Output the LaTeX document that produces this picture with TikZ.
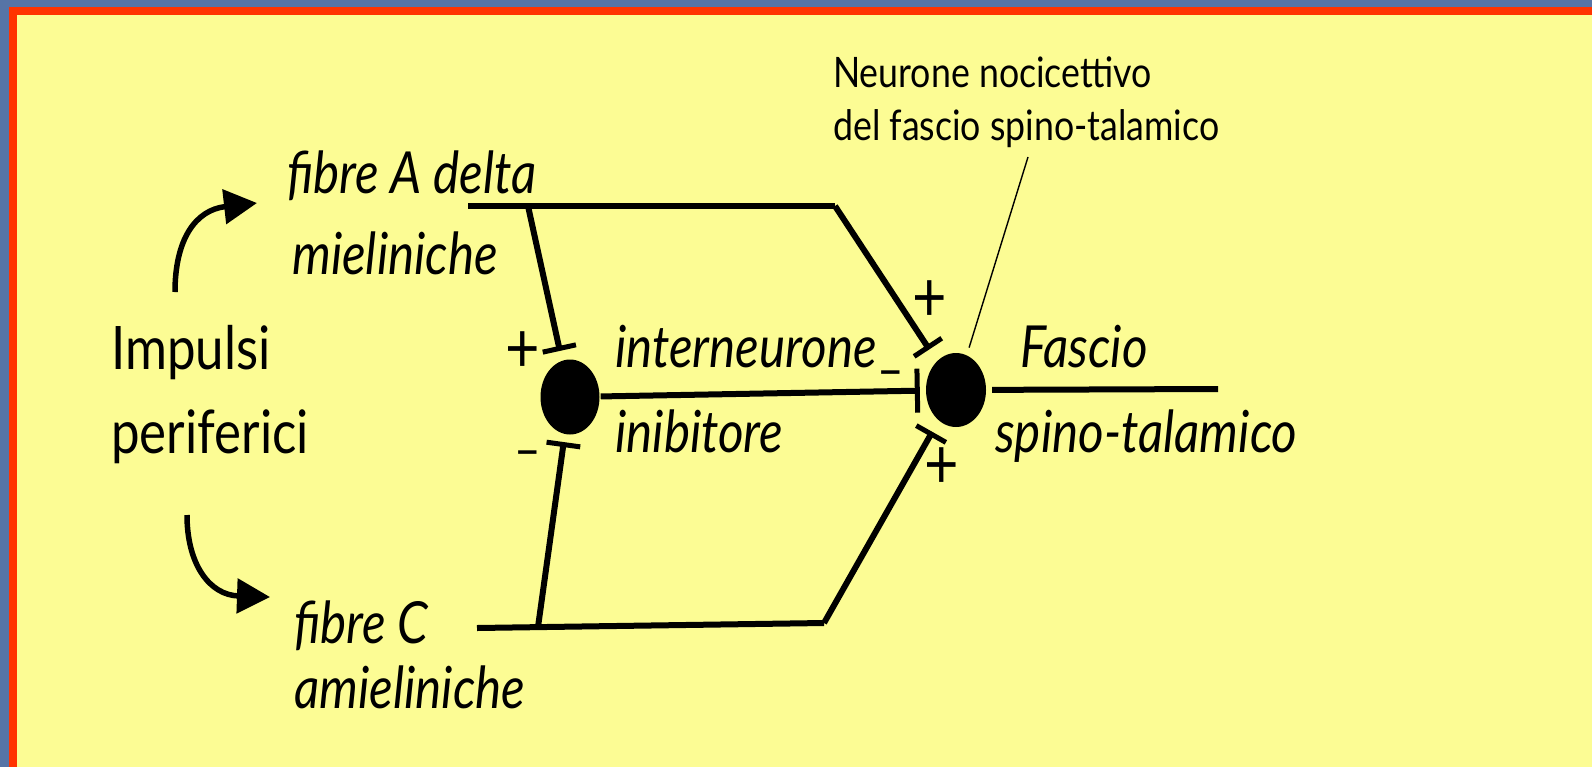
\documentclass[tikz,border=0pt]{standalone}
\usepackage{fontspec}
\setmainfont{Lato}[FakeStretch=0.85]
\usetikzlibrary{arrows.meta,shapes.geometric}

\definecolor{slideblue}{RGB}{86,116,166}
\definecolor{slidered}{RGB}{255,51,0}
\definecolor{slideyellow}{RGB}{252,252,148}

\tikzset{
  fibre/.style={line width=6pt},
  inhib/.style={fibre, -{Bar[width=#1,line width=5pt]}},
  inhib/.default=34pt,
  soma/.style={ellipse, fill=black, inner sep=0pt, minimum width=59pt, minimum height=75pt},
  bigtext/.style={anchor=base west, inner sep=0pt, font=\fontsize{60}{60}\selectfont},
  fibrelab/.style={anchor=base west, inner sep=0pt, font=\fontsize{58}{58}\selectfont\itshape},
  smalltext/.style={anchor=base west, inner sep=0pt, font=\fontsize{42}{42}\selectfont},
  sign/.style={anchor=base, inner sep=0pt, font=\fontsize{70}{70}\selectfont},
  minus/.style={sign, font=\fontsize{54}{54}\selectfont},
  impulse/.style={line width=5.5pt, -{Triangle[length=33pt,width=34pt]}}
}

\begin{document}
\begin{tikzpicture}[x=1pt, y=-1pt]
    \useasboundingbox (0,0) rectangle (1592,766);
    % Background
    \fill[slideyellow] (-10,-10) rectangle (1610,780);
    \fill[slideblue] (-10,-10) rectangle (1610,7);
    \fill[slideblue] (-10,-10) rectangle (8.5,780);
    \fill[slidered] (8.5,7) rectangle (1610,14.5);
    \fill[slidered] (8.5,7) rectangle (16.5,780);

    % Cell bodies
    \node[soma] (inter) at (570,397) {};
    \node[soma, minimum width=60pt, minimum height=74pt] (noci) at (956,390) {};

    % Fibre A delta
    \coordinate (aStart) at (468,206);
    \coordinate (aBranch) at (528,206);
    \coordinate (aBend) at (835,206);
    \draw[fibre] (aStart) -- (aBend);
    \draw[inhib=33pt, shorten >=14pt] (aBend) -- (noci);
    \draw[inhib, shorten >=10pt] (aBranch) -- (inter);

    % Fibre C
    \coordinate (cStart) at (477,628);
    \coordinate (cBranch) at (538,627);
    \coordinate (cBend) at (824,623);
    \draw[fibre] (cStart) -- (cBend);
    \draw[inhib, shorten >=13pt] (cBend) -- (noci);
    \draw[inhib, shorten >=8pt] (cBranch) -- (inter);

    % Interneurone and output
    \draw[inhib=44pt, shorten <=1pt, shorten >=6pt] (inter) -- (noci);
    \coordinate (outEnd) at (1218,389);
    \draw[fibre, shorten <=6pt] (noci) -- (outEnd);

    % Signs
    \node[sign] (plusA) at (523,372) {+};
    \node[minus] (minusA) at (528,468) {–};
    \node[sign] (plusB) at (930,321) {+};
    \node[minus] (minusB) at (891,388) {–};
    \node[sign] (plusC) at (942,488) {+};

    % Labels
    \node[bigtext] (impA) at (111,369) {Impulsi};
    \node[bigtext] (impB) at (111,453) {periferici};
    \node[fibrelab] (aLabA) at (287,193) {fibre A delta};
    \node[fibrelab] (aLabB) at (292,274) {mieliniche};
    \node[fibrelab] (cLabA) at (294,643) {fibre C};
    \node[fibrelab] (cLabB) at (294,708) {amieliniche};
    \node[fibrelab] (intLabA) at (615,367) {interneurone};
    \node[fibrelab] (intLabB) at (615,452) {inibitore};
    \node[fibrelab] (outLabA) at (1020,367) {Fascio};
    \node[fibrelab] (outLabB) at (995,452) {spino-talamico};
    \node[smalltext] (nociLabA) at (833,87) {Neurone nocicettivo};
    \node[smalltext] (nociLabB) at (833,140) {del fascio spino-talamico};

    % Pointer to the neurone
    \coordinate (ptrTop) at (1028,157);
    \draw[line width=1.4pt, shorten >=8pt] (ptrTop) -- (noci);

    % Impulses
    \coordinate (upStart) at (175,292);
    \coordinate (upTip) at (257,203);
    \coordinate (downStart) at (187,515);
    \coordinate (downTip) at (270,597);
    \draw[impulse] (upStart) .. controls (175,240) and (195,210) .. (upTip);
    \draw[impulse] (downStart) .. controls (187,565) and (210,595) .. (downTip);
\end{tikzpicture}
\end{document}
